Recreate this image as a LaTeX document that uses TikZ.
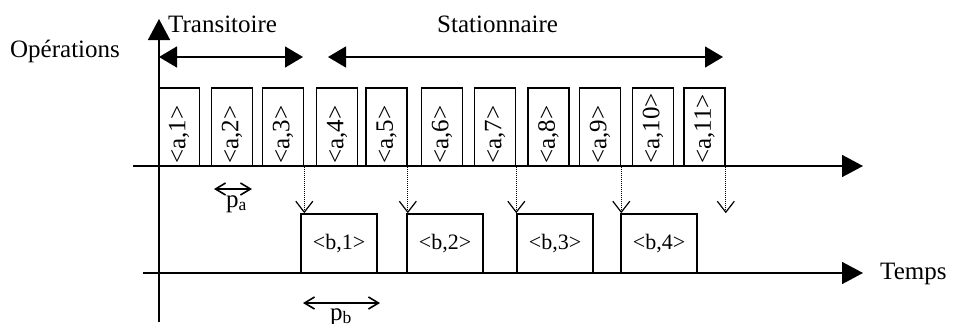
\documentclass[tikz,border=0pt]{standalone}
\usepackage{fontspec}
\setmainfont{Liberation Serif}
\usetikzlibrary{arrows.meta}

\tikzset{
  big/.style={font=\fontsize{25}{30}\selectfont, inner sep=0pt},
  axe/.style={line width=1.6pt, -{Triangle[length=21pt,width=22pt]}},
  phase/.style={line width=1.4pt, {Triangle[length=18pt,width=21pt]}-{Triangle[length=18pt,width=21pt]}},
  abox/.style={draw, line width=1.6pt, minimum width=41pt, minimum height=78pt, inner sep=0pt},
  bbox/.style={draw, line width=1.6pt, minimum width=76pt, minimum height=59pt, inner sep=0pt, font=\fontsize{22}{26}\selectfont},
  dep/.style={line width=1pt, dash pattern=on 1pt off 1pt, -{Straight Barb[length=11pt,width=17pt,line width=1.2pt]}},
  per/.style={line width=1.6pt, {Straight Barb[length=10pt,width=12pt]}-{Straight Barb[length=10pt,width=12pt]}},
}

\begin{document}
\begin{tikzpicture}[x=1pt,y=-1pt]
    \useasboundingbox (0,0) rectangle (954,324);

    % axes
    \coordinate (vb) at (159,322);
    \coordinate (vt) at (159,19);
    \coordinate (ha) at (133,166);
    \coordinate (he) at (863,166);
    \coordinate (ba) at (143,273);
    \coordinate (be) at (863,273);
    \draw[axe] (vb) -- (vt);
    \draw[axe] (ha) -- (he);
    \draw[axe] (ba) -- (be);

    \node[big, anchor=base west] (ops) at (10,57) {Opérations};
    \node[big, anchor=base west] (temps) at (880,279) {Temps};

    % phases
    \coordinate (t1) at (159,57);
    \coordinate (t2) at (303,57);
    \coordinate (s1) at (328,57);
    \coordinate (s2) at (723,57);
    \draw[phase] (t1) -- (t2);
    \draw[phase] (s1) -- (s2);
    \node[big, anchor=base west] (trans) at (168,32) {Transitoire};
    \node[big, anchor=base west] (stat) at (437,32) {Stationnaire};

    % operations a
    \foreach \i/\x in {1/179,2/232,3/283,4/337,5/386.5,6/442,7/495,8/548.5,9/600,10/653,11/704.5} {
        \node[abox] (a\i) at (\x,127) {};
        \node[big, rotate=90, anchor=west] (ta\i) at (\x,164) {<a,\i>};
    }

    % operations b
    \foreach \i/\x in {1/339,2/445,3/555,4/659}
        \node[bbox] (b\i) at (\x,243.5) {<b,\i>};

    \foreach \i/\j in {3/1,5/2,7/3,9/4}
        \draw[dep] (a\i.south east) -- (a\i.south east |- b\j.north);
    \draw[dep] (a11.south east) -- (a11.south east |- b1.north);

    % periodes
    \coordinate (pa1) at (214,189);
    \coordinate (pa2) at (252,189);
    \draw[per] (pa1) -- (pa2);
    \node[big, anchor=base west] (pa) at (226,207) {p\textsubscript{a}};
    \coordinate (pb1) at (303,303);
    \coordinate (pb2) at (380,303);
    \draw[per] (pb1) -- (pb2);
    \node[big, anchor=base west] (pb) at (330,320) {p\textsubscript{b}};
\end{tikzpicture}
\end{document}
